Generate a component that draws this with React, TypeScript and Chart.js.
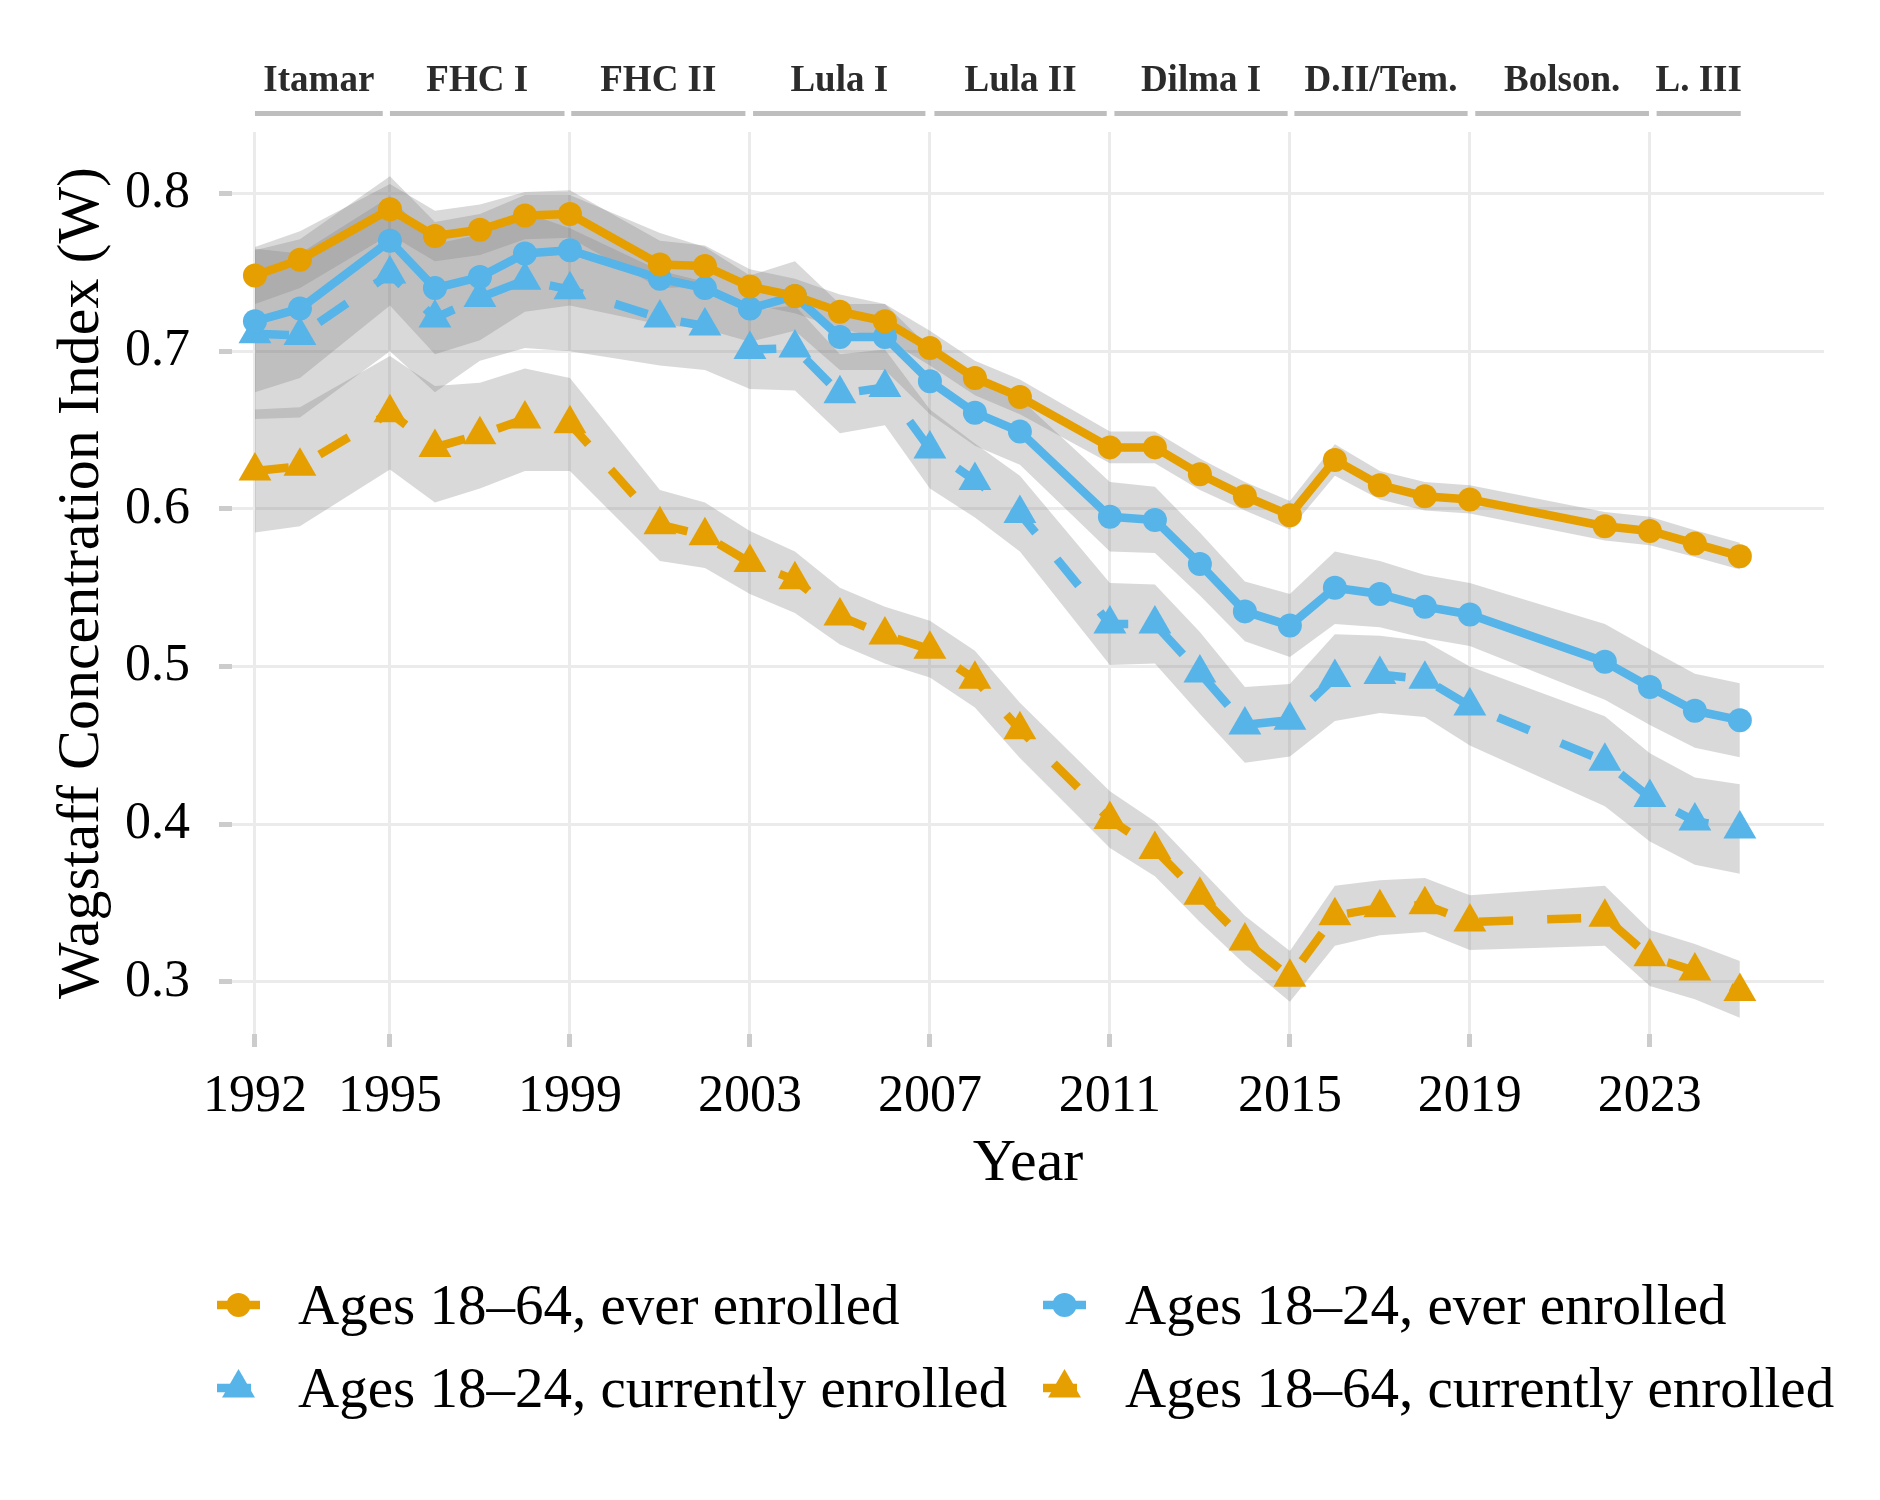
import { useEffect, useRef } from 'react';
import { Chart, registerables } from 'chart.js';

Chart.register(...registerables);

// survey years (no PNAD in 1994, 2000, 2010, 2020, 2021)
const years = [
  1992, 1993, 1995, 1996, 1997, 1998, 1999, 2001, 2002, 2003, 2004, 2005, 2006, 2007, 2008,
  2009, 2011, 2012, 2013, 2014, 2015, 2016, 2017, 2018, 2019, 2022, 2023, 2024, 2025,
];

// Ages 18–64, ever enrolled
const adultEver = [
  0.748, 0.758, 0.790, 0.773, 0.777, 0.786, 0.787, 0.755, 0.754, 0.741, 0.735, 0.725, 0.719, 0.702, 0.683,
  0.671, 0.639, 0.639, 0.622, 0.608, 0.596, 0.631, 0.615, 0.608, 0.606, 0.589, 0.586, 0.578, 0.570,
];
const adultEverLo = [
  0.730, 0.740, 0.774, 0.757, 0.761, 0.771, 0.772, 0.740, 0.741, 0.730, 0.724, 0.714, 0.708, 0.691, 0.672,
  0.660, 0.629, 0.629, 0.612, 0.599, 0.587, 0.621, 0.606, 0.599, 0.597, 0.580, 0.577, 0.5695, 0.5615,
];
const adultEverHi = [
  0.766, 0.776, 0.806, 0.789, 0.793, 0.801, 0.802, 0.770, 0.767, 0.752, 0.746, 0.736, 0.730, 0.713, 0.694,
  0.682, 0.649, 0.649, 0.632, 0.617, 0.605, 0.641, 0.624, 0.617, 0.615, 0.598, 0.595, 0.5865, 0.5785,
];

// Ages 18–24, ever enrolled
const youthEver = [
  0.719, 0.727, 0.770, 0.740, 0.747, 0.762, 0.764, 0.746, 0.740, 0.727, 0.735, 0.709, 0.709, 0.681, 0.661,
  0.649, 0.595, 0.593, 0.565, 0.535, 0.526, 0.550, 0.546, 0.538, 0.533, 0.503, 0.487, 0.472, 0.466,
];
const youthEverLo = [
  0.674, 0.683, 0.729, 0.698, 0.707, 0.725, 0.729, 0.717, 0.714, 0.706, 0.713, 0.688, 0.688, 0.660, 0.640,
  0.628, 0.573, 0.572, 0.545, 0.516, 0.506, 0.527, 0.525, 0.518, 0.513, 0.479, 0.463, 0.4485, 0.4425,
];
const youthEverHi = [
  0.764, 0.771, 0.811, 0.782, 0.787, 0.799, 0.799, 0.775, 0.766, 0.748, 0.757, 0.730, 0.730, 0.702, 0.682,
  0.670, 0.617, 0.614, 0.585, 0.554, 0.546, 0.573, 0.567, 0.558, 0.553, 0.527, 0.511, 0.4955, 0.4895,
];

// Ages 18–24, currently enrolled
const youthCurrent = [
  0.711, 0.710, 0.749, 0.721, 0.734, 0.745, 0.739, 0.721, 0.716, 0.701, 0.702, 0.673, 0.677, 0.638, 0.618,
  0.597, 0.527, 0.527, 0.496, 0.463, 0.466, 0.493, 0.495, 0.492, 0.475, 0.440, 0.417, 0.402, 0.397,
];
const youthCurrentLo = [
  0.657, 0.658, 0.700, 0.674, 0.694, 0.702, 0.700, 0.691, 0.688, 0.676, 0.675, 0.648, 0.653, 0.613, 0.5945,
  0.573, 0.501, 0.502, 0.470, 0.439, 0.443, 0.4655, 0.4705, 0.468, 0.450, 0.4115, 0.389, 0.3743, 0.3686,
];
const youthCurrentHi = [
  0.765, 0.762, 0.798, 0.768, 0.774, 0.788, 0.778, 0.751, 0.744, 0.726, 0.729, 0.698, 0.701, 0.663, 0.6415,
  0.621, 0.553, 0.552, 0.522, 0.487, 0.489, 0.5205, 0.5195, 0.516, 0.500, 0.4685, 0.445, 0.4297, 0.4254,
];

// Ages 18–64, currently enrolled
const adultCurrent = [
  0.624, 0.627, 0.661, 0.639, 0.647, 0.657, 0.654, 0.590, 0.583, 0.566, 0.555, 0.532, 0.520, 0.511, 0.492,
  0.460, 0.403, 0.384, 0.355, 0.326, 0.303, 0.342, 0.347, 0.349, 0.338, 0.341, 0.316, 0.307, 0.294,
];
const adultCurrentLo = [
  0.585, 0.589, 0.625, 0.604, 0.613, 0.624, 0.624, 0.567, 0.5625, 0.546, 0.534, 0.514, 0.502, 0.493, 0.474,
  0.442, 0.385, 0.367, 0.338, 0.311, 0.2875, 0.323, 0.3296, 0.3317, 0.3203, 0.323, 0.2974, 0.289, 0.2773,
];
const adultCurrentHi = [
  0.663, 0.6645, 0.697, 0.678, 0.680, 0.689, 0.683, 0.612, 0.604, 0.586, 0.573, 0.550, 0.538, 0.529, 0.510,
  0.477, 0.421, 0.4017, 0.372, 0.342, 0.3196, 0.361, 0.3645, 0.366, 0.355, 0.361, 0.333, 0.324, 0.3133,
];

const xTicks = [1992, 1995, 1999, 2003, 2007, 2011, 2015, 2019, 2023];
const yTicks = [0.3, 0.4, 0.5, 0.6, 0.7, 0.8];

// presidential terms shown above the panel
const periods = ['Itamar', 'FHC I', 'FHC II', 'Lula I', 'Lula II', 'Dilma I', 'D.II/Tem.', 'Bolson.', 'L. III'];
const periodStart = [1992, 1995, 1999.03, 2003.07, 2007.1, 2011.1, 2015.1, 2019.12, 2023.15];
const periodEnd = [1994.84, 1998.88, 2002.9, 2006.9, 2010.93, 2014.95, 2018.95, 2022.98, 2025.02];

const ORANGE = '#E69F00';
const BLUE = '#56B4E9';
const BAND = 'rgba(128,128,128,0.3)';
const GRID = '#ebebeb';
const TICK = '#cccccc';
const FONT = "'Liberation Serif', 'Times New Roman', serif";

type Shape = 'circle' | 'triangle';

interface Series {
  label: string;
  color: string;
  mid: number[];
  lo: number[];
  hi: number[];
  dashed: boolean;
  shape: Shape;
}

// drawn bottom to top
const series: Series[] = [
  { label: 'Ages 18–24, currently enrolled', color: BLUE, mid: youthCurrent, lo: youthCurrentLo, hi: youthCurrentHi, dashed: true, shape: 'triangle' },
  { label: 'Ages 18–24, ever enrolled', color: BLUE, mid: youthEver, lo: youthEverLo, hi: youthEverHi, dashed: false, shape: 'circle' },
  { label: 'Ages 18–64, currently enrolled', color: ORANGE, mid: adultCurrent, lo: adultCurrentLo, hi: adultCurrentHi, dashed: true, shape: 'triangle' },
  { label: 'Ages 18–64, ever enrolled', color: ORANGE, mid: adultEver, lo: adultEverLo, hi: adultEverHi, dashed: false, shape: 'circle' },
];

// legend reads row by row, two columns
const legendOrder = [3, 1, 0, 2];

const LINE_W = 8.5;
const DASH = [34, 34];
const CIRCLE_R = 12;
const TRI_R = 19;

const pts = (vals: number[]) => vals.map((y, i) => ({ x: years[i], y }));

function drawMarker(ctx: CanvasRenderingContext2D, shape: Shape, x: number, y: number, color: string) {
  ctx.fillStyle = color;
  ctx.beginPath();
  if (shape === 'circle') {
    ctx.arc(x, y, CIRCLE_R, 0, Math.PI * 2);
  } else {
    ctx.moveTo(x, y - TRI_R);
    ctx.lineTo(x + TRI_R * 0.866, y + TRI_R / 2);
    ctx.lineTo(x - TRI_R * 0.866, y + TRI_R / 2);
    ctx.closePath();
  }
  ctx.fill();
}

const overlayPlugin = {
  id: 'overlay',
  afterDraw(chart: Chart) {
    const ctx = chart.ctx;
    const xs = chart.scales.x;
    ctx.save();

    // term bars + labels
    periods.forEach((name, i) => {
      const x0 = xs.getPixelForValue(periodStart[i]);
      const x1 = xs.getPixelForValue(periodEnd[i]);
      ctx.strokeStyle = '#bebebe';
      ctx.lineWidth = 5;
      ctx.lineCap = 'butt';
      ctx.setLineDash([]);
      ctx.beginPath();
      ctx.moveTo(x0, 113.5);
      ctx.lineTo(x1, 113.5);
      ctx.stroke();
      ctx.fillStyle = '#2b2b2b';
      ctx.font = `bold 37px ${FONT}`;
      ctx.textAlign = 'center';
      ctx.textBaseline = 'alphabetic';
      ctx.fillText(name, (x0 + x1) / 2, 91);
    });

    // legend
    const colKey = [217, 1043];
    const colText = [298, 1125];
    const rowY = [1305, 1388];
    legendOrder.forEach((si, k) => {
      const s = series[si];
      const col = k % 2;
      const row = Math.floor(k / 2);
      const y = rowY[row];
      const kx = colKey[col];
      ctx.strokeStyle = s.color;
      ctx.lineWidth = LINE_W;
      ctx.lineCap = 'butt';
      ctx.setLineDash(s.dashed ? DASH : []);
      ctx.beginPath();
      ctx.moveTo(kx, y);
      ctx.lineTo(kx + 43, y);
      ctx.stroke();
      ctx.setLineDash([]);
      drawMarker(ctx, s.shape, kx + 21.5, y, s.color);
      ctx.fillStyle = '#000';
      ctx.font = `57px ${FONT}`;
      ctx.textAlign = 'left';
      ctx.textBaseline = 'alphabetic';
      ctx.fillText(s.label, colText[col], y + 18.5);
    });

    ctx.restore();
  },
};

export default function App() {
  const canvasRef = useRef<HTMLCanvasElement | null>(null);

  useEffect(() => {
    if (!canvasRef.current) return;

    const datasets: any[] = [];

    // confidence ribbons first
    series.forEach((s) => {
      const loIndex = datasets.length;
      datasets.push({
        data: pts(s.lo),
        borderWidth: 0,
        pointRadius: 0,
        fill: false,
        order: 3,
      });
      datasets.push({
        data: pts(s.hi),
        borderWidth: 0,
        pointRadius: 0,
        fill: { target: loIndex },
        backgroundColor: BAND,
        order: 3,
      });
    });

    // lines, then points on top (index 0 is drawn last within an order)
    [...series].reverse().forEach((s) => {
      datasets.push({
        data: pts(s.mid),
        borderColor: s.color,
        borderWidth: LINE_W,
        borderDash: s.dashed ? DASH : [],
        borderJoinStyle: 'round',
        borderCapStyle: 'butt',
        pointRadius: 0,
        fill: false,
        order: 2,
      });
    });
    [...series].reverse().forEach((s) => {
      datasets.push({
        data: pts(s.mid),
        showLine: false,
        pointStyle: s.shape,
        pointRadius: s.shape === 'circle' ? CIRCLE_R : TRI_R,
        pointBackgroundColor: s.color,
        pointBorderWidth: 0,
        order: 1,
      });
    });

    const chart = new Chart(canvasRef.current, {
      type: 'line',
      data: { datasets },
      options: {
        animation: false,
        responsive: false,
        devicePixelRatio: 1,
        events: [],
        layout: { padding: { top: 132, right: 56, bottom: 300, left: 0 } },
        plugins: {
          legend: { display: false },
          tooltip: { enabled: false },
        },
        scales: {
          x: {
            type: 'linear',
            min: 1991.49,
            max: 2026.87,
            afterBuildTicks: (s: any) => {
              s.ticks = xTicks.map((v) => ({ value: v }));
            },
            afterFit: (s: any) => {
              s.height = 166;
            },
            border: { display: false },
            grid: {
              color: GRID,
              lineWidth: 3,
              drawTicks: true,
              tickLength: 13,
              tickWidth: 5,
              tickColor: TICK,
            },
            ticks: {
              font: { family: FONT, size: 52 },
              color: '#000',
              padding: 19,
              maxRotation: 0,
              autoSkip: false,
              callback: (v: any) => String(v),
            },
            title: {
              display: true,
              text: 'Year',
              font: { family: FONT, size: 60 },
              color: '#000',
              padding: { top: 0, bottom: 0 },
            },
          },
          y: {
            type: 'linear',
            min: 0.267,
            max: 0.839,
            afterBuildTicks: (s: any) => {
              s.ticks = yTicks.map((v) => ({ value: v }));
            },
            afterFit: (s: any) => {
              s.width = 232;
            },
            border: { display: false },
            grid: {
              color: GRID,
              lineWidth: 3,
              drawTicks: true,
              tickLength: 13,
              tickWidth: 5,
              tickColor: TICK,
            },
            ticks: {
              font: { family: FONT, size: 52 },
              color: '#000',
              padding: 29,
              callback: (v: any) => Number(v).toFixed(1),
            },
            title: {
              display: true,
              text: 'Wagstaff Concentration Index (W)',
              font: { family: FONT, size: 60 },
              color: '#000',
              padding: { top: 46, bottom: 0 },
            },
          },
        },
      },
      plugins: [overlayPlugin],
    });

    return () => {
      chart.destroy();
    };
  }, []);

  return (
    <div style={{ position: 'absolute', left: 0, top: 0, width: 1880, height: 1500, background: '#fff' }}>
      <canvas ref={canvasRef} width={1880} height={1500}></canvas>
    </div>
  );
}
